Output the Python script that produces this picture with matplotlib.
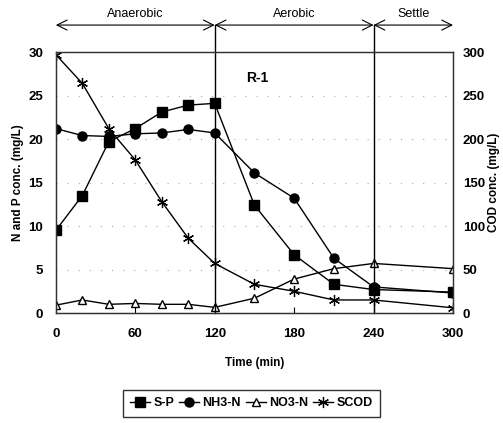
import matplotlib
matplotlib.use("Agg")
import matplotlib.pyplot as plt

# sampling times (min)
time = [0, 20, 40, 60, 80, 100, 120, 150, 180, 210, 240, 300]

# left axis, mg/L
sp = [9.5, 13.5, 19.7, 21.2, 23.1, 23.9, 24.1, 12.4, 6.7, 3.3, 2.7, 2.4]
nh3n = [21.2, 20.4, 20.3, 20.6, 20.7, 21.1, 20.7, 16.1, 13.2, 6.3, 3.0, 2.3]
no3n = [0.9, 1.5, 1.0, 1.1, 1.0, 1.0, 0.65, 1.7, 3.9, 5.1, 5.7, 5.1]

# right axis, mg/L
scod = [297, 264, 212, 176, 128, 86, 57, 33, 25, 15, 15, 6]

phases = ["Anaerobic", "Aerobic", "Settle"]
phase_edges = [0, 120, 240, 300]

xticks = [0, 60, 120, 180, 240, 300]
yticks = [0, 5, 10, 15, 20, 25, 30]
y2ticks = [0, 50, 100, 150, 200, 250, 300]

plt.rcParams["font.family"] = ["Liberation Sans Narrow", "Liberation Sans", "DejaVu Sans"]
plt.rcParams["font.weight"] = "bold"

fig = plt.figure(figsize=(5.03, 4.23), dpi=100)
ax = fig.add_axes([0.111, 0.26, 0.7896, 0.617])
ax2 = ax.twinx()

ax.plot(time, sp, "-", color="black", lw=1, marker="s", ms=7,
        mfc="black", mec="black", label="S-P")
ax.plot(time, nh3n, "-", color="black", lw=1, marker="o", ms=6.5,
        mfc="black", mec="black", label="NH3-N")
ax.plot(time, no3n, "-", color="black", lw=1, marker="^", ms=5.5,
        mfc="white", mec="black", mew=1, label="NO3-N")
ax2.plot(time, scod, "-", color="black", lw=1, marker=(6, 2, 0), ms=8,
         mec="black", mew=0.9, label="SCOD")

ax.set_xlim(0, 300)
ax.set_ylim(0, 30)
ax2.set_ylim(0, 300)
ax.set_xticks(xticks)
ax.set_yticks(yticks)
ax2.set_yticks(y2ticks)

ax.grid(True, axis="y", linestyle=(0, (1, 9)), color="#aaaaaa", lw=0.8)
ax.tick_params(axis="x", direction="in", length=4, pad=11, labelsize=9.5)
ax.tick_params(axis="y", length=0, pad=9, labelsize=9.5)
ax2.tick_params(axis="y", length=0, pad=7, labelsize=9.5)

for a in (ax, ax2):
    for s in a.spines.values():
        s.set_linewidth(0.9)
        s.set_color("#333333")

ax.set_xlabel("Time (min)", fontsize=8.5, fontweight="bold", labelpad=12)
ax.set_ylabel("N and P conc. (mg/L)", fontsize=8.5, fontweight="bold", labelpad=3)
ax2.set_ylabel("COD conc. (mg/L)", fontsize=8.5, fontweight="bold", labelpad=2)

ax.text(152, 27, "R-1", fontsize=10, fontweight="bold", ha="center", va="center")

# phase arrows and separators above the plot
y_arrow = 33.1
for i, name in enumerate(phases):
    x0, x1 = phase_edges[i], phase_edges[i + 1]
    ax.annotate("", xy=(x0, y_arrow), xytext=(x1, y_arrow),
                arrowprops=dict(arrowstyle="<->", color="black", lw=0.8,
                                mutation_scale=18, shrinkA=0, shrinkB=0),
                annotation_clip=False)
    ax.text((x0 + x1) / 2, y_arrow + 0.55, name, fontsize=9, ha="center",
            va="bottom", fontweight="normal")
for xv in phase_edges[1:-1]:
    ax.plot([xv, xv], [0, y_arrow], color="black", lw=1, clip_on=False)

h1, l1 = ax.get_legend_handles_labels()
h2, l2 = ax2.get_legend_handles_labels()
fig.legend(h1 + h2, l1 + l2, loc="lower center", bbox_to_anchor=(0.5, 0.0),
           ncol=4, frameon=True, fancybox=False, edgecolor="black",
           fontsize=9, handlelength=1.6, handletextpad=0.25,
           columnspacing=0.4, borderpad=0.6)

fig.savefig("out.png", dpi=100)
